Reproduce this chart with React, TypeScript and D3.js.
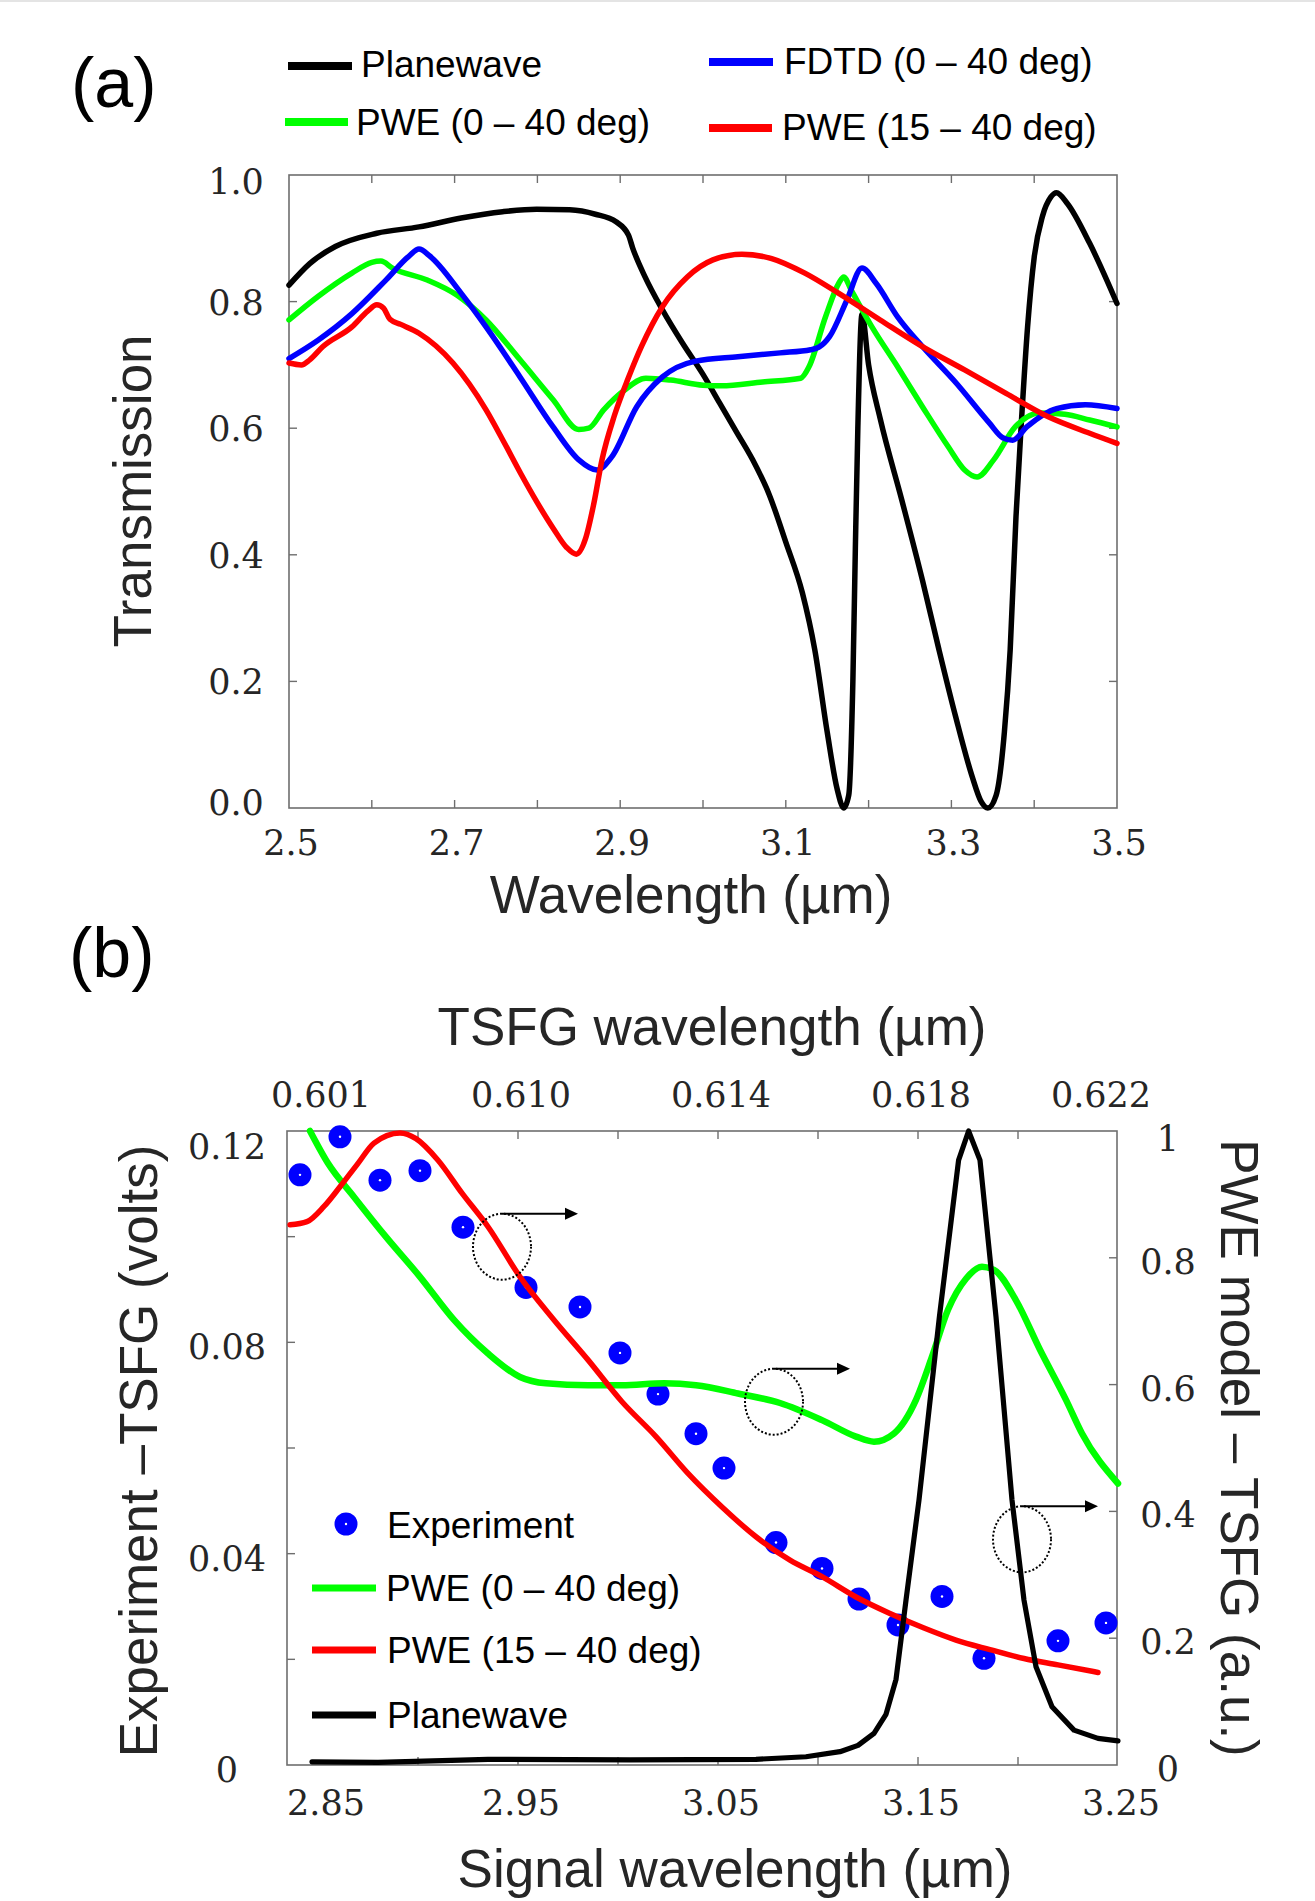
import React from "react";
import * as d3 from "d3";

// ---------- panel (a) data : transmission vs wavelength (um) ----------
const aXTickLabels = [2.5, 2.7, 2.9, 3.1, 3.3, 3.5];
const aXMinor = [2.6, 2.7, 2.8, 2.9, 3.0, 3.1, 3.2, 3.3, 3.4];
const aYTicks = [0, 0.2, 0.4, 0.6, 0.8, 1.0];

const planewaveA: [number, number][] = [
  [2.5, 0.826], [2.525, 0.86], [2.556, 0.887], [2.606, 0.908], [2.657, 0.918], [2.708, 0.932],
  [2.758, 0.942], [2.799, 0.946], [2.839, 0.945], [2.87, 0.938], [2.895, 0.926], [2.91, 0.905],
  [2.915, 0.885], [2.93, 0.839], [2.951, 0.787], [2.975, 0.735], [3.0, 0.685], [3.02, 0.64],
  [3.04, 0.595], [3.06, 0.55], [3.08, 0.495], [3.1, 0.42], [3.12, 0.34], [3.135, 0.25],
  [3.15, 0.12], [3.162, 0.03], [3.17, 0.0], [3.176, 0.02], [3.181, 0.2], [3.184, 0.41],
  [3.187, 0.6], [3.192, 0.78], [3.2, 0.7], [3.214, 0.615], [3.24, 0.487], [3.265, 0.36],
  [3.285, 0.25], [3.305, 0.145], [3.325, 0.05], [3.336, 0.01], [3.344, 0.0], [3.354, 0.02],
  [3.364, 0.12], [3.371, 0.25], [3.378, 0.46], [3.385, 0.62], [3.392, 0.76], [3.4, 0.87],
  [3.41, 0.935], [3.42, 0.965], [3.427, 0.972], [3.44, 0.955], [3.467, 0.892], [3.5, 0.797],
];

const pwe040A: [number, number][] = [
  [2.5, 0.771], [2.535, 0.808], [2.576, 0.845], [2.6, 0.862], [2.611, 0.864], [2.625, 0.853],
  [2.667, 0.834], [2.703, 0.81], [2.738, 0.771], [2.779, 0.708], [2.819, 0.645], [2.85, 0.598],
  [2.862, 0.6], [2.88, 0.629], [2.905, 0.66], [2.931, 0.679], [2.961, 0.676], [3.0, 0.668],
  [3.022, 0.667], [3.072, 0.673], [3.118, 0.679], [3.128, 0.697], [3.148, 0.776], [3.164, 0.829],
  [3.17, 0.839], [3.179, 0.818], [3.204, 0.76], [3.235, 0.697], [3.265, 0.634], [3.296, 0.571],
  [3.316, 0.534], [3.331, 0.523], [3.351, 0.55], [3.377, 0.602], [3.407, 0.624], [3.437, 0.622],
  [3.467, 0.613], [3.5, 0.602],
];

const fdtdA: [number, number][] = [
  [2.5, 0.71], [2.535, 0.739], [2.576, 0.781], [2.617, 0.834], [2.645, 0.872], [2.657, 0.883],
  [2.67, 0.872], [2.708, 0.813], [2.738, 0.76], [2.779, 0.681], [2.819, 0.602], [2.85, 0.55],
  [2.872, 0.534], [2.89, 0.555], [2.92, 0.634], [2.951, 0.681], [2.991, 0.706], [3.042, 0.713],
  [3.093, 0.719], [3.13, 0.724], [3.14, 0.728], [3.153, 0.745], [3.174, 0.803], [3.192, 0.853],
  [3.209, 0.829], [3.235, 0.776], [3.265, 0.729], [3.306, 0.671], [3.346, 0.608], [3.362, 0.585],
  [3.374, 0.581], [3.391, 0.602], [3.427, 0.631], [3.462, 0.637], [3.5, 0.631],
];

const pwe1540A: [number, number][] = [
  [2.5, 0.703], [2.515, 0.7], [2.525, 0.708], [2.541, 0.729], [2.576, 0.76], [2.595, 0.785],
  [2.606, 0.795], [2.614, 0.79], [2.622, 0.772], [2.635, 0.764], [2.657, 0.75], [2.698, 0.703],
  [2.738, 0.629], [2.76, 0.577], [2.78, 0.528], [2.8, 0.482], [2.82, 0.44], [2.835, 0.412],
  [2.847, 0.401], [2.858, 0.425], [2.868, 0.48], [2.878, 0.55], [2.893, 0.62], [2.91, 0.68],
  [2.926, 0.73], [2.951, 0.792], [2.981, 0.839], [3.012, 0.866], [3.047, 0.875], [3.083, 0.868],
  [3.123, 0.845], [3.164, 0.813], [3.214, 0.771], [3.265, 0.729], [3.316, 0.692], [3.366, 0.655],
  [3.417, 0.618], [3.467, 0.592], [3.5, 0.576],
];

// ---------- panel (b) data ----------
const bXTickLabels = [2.85, 2.95, 3.05, 3.15, 3.25];
const bXMinor = [2.9, 2.95, 3.0, 3.05, 3.1, 3.15, 3.2];
const bTopTickPos = [2.85, 2.95, 3.05, 3.15, 3.24];
const bTopTickLabels = ["0.601", "0.610", "0.614", "0.618", "0.622"];
const bLeftTicks = [0, 0.04, 0.08, 0.12];
const bLeftMinor = [0.02, 0.04, 0.06, 0.08, 0.1];
const bRightTicks = [0, 0.2, 0.4, 0.6, 0.8, 1];

// experiment (volts, left axis)
const expX = [2.841, 2.861, 2.881, 2.901, 2.9225, 2.954, 2.981, 3.001, 3.02, 3.039,
  3.053, 3.079, 3.102, 3.1205, 3.14, 3.162, 3.183, 3.22, 3.244];
const expY = [0.1117, 0.1189, 0.1107, 0.1125, 0.1018, 0.0904, 0.0867, 0.078, 0.0702, 0.0627,
  0.0562, 0.0421, 0.0372, 0.0314, 0.0265, 0.0319, 0.0202, 0.0235, 0.0269];

// models (a.u., right axis)
const pwe040B: [number, number][] = [
  [2.846, 1.0], [2.855, 0.949], [2.868, 0.896], [2.884, 0.833], [2.901, 0.77], [2.918, 0.702],
  [2.935, 0.649], [2.951, 0.612], [2.964, 0.602], [2.985, 0.599], [3.002, 0.599], [3.023, 0.602],
  [3.039, 0.599], [3.06, 0.586], [3.081, 0.571], [3.102, 0.544], [3.119, 0.518], [3.128, 0.51],
  [3.138, 0.523], [3.149, 0.576], [3.157, 0.644], [3.165, 0.718], [3.174, 0.767], [3.182, 0.786],
  [3.188, 0.781], [3.199, 0.733], [3.211, 0.655], [3.224, 0.576], [3.232, 0.523], [3.25, 0.444],
];

const pwe1540B: [number, number][] = [
  [2.836, 0.852], [2.8445, 0.857], [2.853, 0.881], [2.861, 0.912], [2.87, 0.949], [2.878, 0.981],
  [2.891, 0.997], [2.899, 0.988], [2.91, 0.954], [2.922, 0.902], [2.935, 0.849], [2.951, 0.77],
  [2.968, 0.702], [2.985, 0.639], [3.002, 0.573], [3.019, 0.518], [3.035, 0.46], [3.052, 0.407],
  [3.069, 0.36], [3.086, 0.323], [3.102, 0.297], [3.119, 0.265], [3.136, 0.239], [3.153, 0.216],
  [3.169, 0.197], [3.186, 0.182], [3.203, 0.168], [3.22, 0.158], [3.24, 0.146],
];

const planewaveB: [number, number][] = [
  [2.847, 0.005], [2.88, 0.004], [2.935, 0.009], [3.006, 0.008], [3.069, 0.009], [3.094, 0.013],
  [3.111, 0.021], [3.12, 0.031], [3.128, 0.05], [3.134, 0.08], [3.139, 0.135], [3.144, 0.26],
  [3.1505, 0.418], [3.1607, 0.707], [3.1703, 0.954], [3.1753, 1.0], [3.181, 0.954], [3.189, 0.707],
  [3.197, 0.418], [3.203, 0.26], [3.209, 0.155], [3.217, 0.092], [3.228, 0.055], [3.24, 0.042],
  [3.25, 0.038],
];

// dotted "points to right axis" markers: centre (signal um, a.u.) and arrow end
const markerCx = [2.942, 3.078, 3.202];
const markerCy = [0.8175, 0.573, 0.356];
const markerEnd = [2.98, 3.116, 3.24];

const tickFont = "'DejaVu Serif', serif";
const sansFont = "'Liberation Sans', Arial, sans-serif";
const axisColor = "#6e6e6e";
const textColor = "#262626";

export default function App() {
  const width = 1315;
  const height = 1901;

  // scales
  const xA = d3.scaleLinear().domain([2.5, 3.5]).range([289, 1117]);
  const yA = d3.scaleLinear().domain([0, 1]).range([808, 175]);
  const xB = d3.scaleLinear().domain([2.8345, 3.2495]).range([287, 1117]);
  const yBL = d3.scaleLinear().domain([0, 0.12]).range([1765, 1131]);
  const yBR = d3.scaleLinear().domain([0, 1]).range([1765, 1131]);

  const lineA = d3.line<[number, number]>()
    .x(d => xA(d[0]))
    .y(d => yA(d[1]))
    .curve(d3.curveMonotoneX);
  const lineB = d3.line<[number, number]>()
    .x(d => xB(d[0]))
    .y(d => yBR(d[1]))
    .curve(d3.curveMonotoneX);
  const lineBLinear = d3.line<[number, number]>()
    .x(d => xB(d[0]))
    .y(d => yBR(d[1]));

  const [aL, aR] = xA.range();
  const [aB, aT] = yA.range();
  const [bL, bR] = xB.range();
  const [bB, bT] = yBR.range();
  const tick = 8;

  // end labels of the (a) y axis sit a little inside the axis ends
  const aYLabelShift = (v: number) => (v === 1 ? 19 : v === 0 ? 7 : 13);

  return (
    <svg width={width} height={height} style={{ position: "absolute", left: 0, top: 0, background: "#fff" }}>
      <rect x={0} y={0} width={width} height={height} fill="#fff" />
      <line x1={0} x2={width} y1={1} y2={1} stroke="#e4e4e4" strokeWidth={2} />

      {/* ================= panel (a) ================= */}
      <text x={71} y={107} fontFamily={sansFont} fontSize={70} fill="#000">(a)</text>

      {/* legend (a) */}
      <g fontFamily={sansFont} fontSize={37} fill="#000">
        <line x1={288} x2={352} y1={66} y2={66} stroke="#000" strokeWidth={8} />
        <text x={361} y={77}>Planewave</text>
        <line x1={709} x2={773} y1={62} y2={62} stroke="#0000ff" strokeWidth={8} />
        <text x={784} y={74}>FDTD (0 – 40 deg)</text>
        <line x1={285} x2={348} y1={122} y2={122} stroke="#00ff00" strokeWidth={8} />
        <text x={356} y={135}>PWE (0 – 40 deg)</text>
        <line x1={709} x2={772} y1={128} y2={128} stroke="#ff0000" strokeWidth={8} />
        <text x={782} y={140}>PWE (15 – 40 deg)</text>
      </g>

      {/* axes box (a) */}
      <rect x={aL} y={aT} width={aR - aL} height={aB - aT} fill="none" stroke={axisColor} strokeWidth={1.6} />
      {aXMinor.map(v => (
        <g key={"axm" + v}>
          <line x1={xA(v)} x2={xA(v)} y1={aB} y2={aB - tick} stroke={axisColor} strokeWidth={1.4} />
          <line x1={xA(v)} x2={xA(v)} y1={aT} y2={aT + tick} stroke={axisColor} strokeWidth={1.4} />
        </g>
      ))}
      {aYTicks.slice(1, -1).map(v => (
        <g key={"aym" + v}>
          <line x1={aL} x2={aL + tick} y1={yA(v)} y2={yA(v)} stroke={axisColor} strokeWidth={1.4} />
          <line x1={aR} x2={aR - tick} y1={yA(v)} y2={yA(v)} stroke={axisColor} strokeWidth={1.4} />
        </g>
      ))}
      <g fontFamily={tickFont} fontSize={35} fill={textColor}>
        {aXTickLabels.map(v => (
          <text key={"axl" + v} x={xA(v) + 2} y={855} textAnchor="middle">{v.toFixed(1)}</text>
        ))}
        {aYTicks.map(v => (
          <text key={"ayl" + v} x={236} y={yA(v) + aYLabelShift(v)} textAnchor="middle">{v.toFixed(1)}</text>
        ))}
      </g>
      <text x={691} y={913} textAnchor="middle" fontFamily={sansFont} fontSize={53} fill={textColor}>Wavelength (µm)</text>
      <text transform={`translate(151,491) rotate(-90)`} textAnchor="middle" fontFamily={sansFont} fontSize={53} fill={textColor}>Transmission</text>

      {/* curves (a) */}
      <g fill="none" strokeLinejoin="round" strokeLinecap="round">
        <path d={lineA(planewaveA) ?? ""} stroke="#000" strokeWidth={5.5} />
        <path d={lineA(pwe040A) ?? ""} stroke="#00ff00" strokeWidth={5.5} />
        <path d={lineA(fdtdA) ?? ""} stroke="#0000ff" strokeWidth={5.5} />
        <path d={lineA(pwe1540A) ?? ""} stroke="#ff0000" strokeWidth={5.5} />
      </g>

      {/* ================= panel (b) ================= */}
      <text x={69} y={977} fontFamily={sansFont} fontSize={70} fill="#000">(b)</text>
      <text x={712} y={1045} textAnchor="middle" fontFamily={sansFont} fontSize={53} fill={textColor}>TSFG wavelength (µm)</text>
      <text x={735} y={1887} textAnchor="middle" fontFamily={sansFont} fontSize={53} fill={textColor}>Signal wavelength (µm)</text>
      <text transform={`translate(157,1451) rotate(-90)`} textAnchor="middle" fontFamily={sansFont} fontSize={53} fill={textColor}>Experiment –TSFG (volts)</text>
      <text transform={`translate(1221,1448) rotate(90)`} textAnchor="middle" fontFamily={sansFont} fontSize={53} fill={textColor}>PWE model – TSFG (a.u.)</text>

      <rect x={bL} y={bT} width={bR - bL} height={bB - bT} fill="none" stroke={axisColor} strokeWidth={1.6} />
      {bXMinor.map(v => (
        <g key={"bxm" + v}>
          <line x1={xB(v)} x2={xB(v)} y1={bB} y2={bB - tick} stroke={axisColor} strokeWidth={1.4} />
          <line x1={xB(v)} x2={xB(v)} y1={bT} y2={bT + tick} stroke={axisColor} strokeWidth={1.4} />
        </g>
      ))}
      {bLeftMinor.map(v => (
        <line key={"blm" + v} x1={bL} x2={bL + tick} y1={yBL(v)} y2={yBL(v)} stroke={axisColor} strokeWidth={1.4} />
      ))}
      {bRightTicks.slice(1, -1).map(v => (
        <line key={"brm" + v} x1={bR} x2={bR - tick} y1={yBR(v)} y2={yBR(v)} stroke={axisColor} strokeWidth={1.4} />
      ))}
      <g fontFamily={tickFont} fontSize={35} fill={textColor}>
        {bXTickLabels.map(v => (
          <text key={"bxl" + v} x={xB(v) + (v === 2.85 ? 8 : 3)} y={1815} textAnchor="middle">{v.toFixed(2)}</text>
        ))}
        {bTopTickPos.map((v, i) => (
          <text key={"btl" + v} x={xB(v) + 3} y={1107} textAnchor="middle">{bTopTickLabels[i]}</text>
        ))}
        {bLeftTicks.map(v => (
          <text key={"bll" + v} x={227} y={yBL(v) + (v === 0.12 ? 28 : 17)} textAnchor="middle">{v === 0 ? "0" : String(v)}</text>
        ))}
        {bRightTicks.map(v => (
          <text key={"brl" + v} x={1168} y={yBR(v) + (v === 1 ? 20 : 16)} textAnchor="middle">{String(v)}</text>
        ))}
      </g>

      {/* experiment dots */}
      {expX.map((x, i) => (
        <g key={"exp" + i}>
          <circle cx={xB(x)} cy={yBL(expY[i])} r={11.5} fill="#0000ff" />
          <circle cx={xB(x)} cy={yBL(expY[i])} r={1.2} fill="#fff" />
        </g>
      ))}

      {/* model curves */}
      <g fill="none" strokeLinejoin="round" strokeLinecap="round">
        <path d={lineB(pwe040B) ?? ""} stroke="#00ff00" strokeWidth={6.5} />
        <path d={lineB(pwe1540B) ?? ""} stroke="#ff0000" strokeWidth={5.5} />
        <path d={lineBLinear(planewaveB) ?? ""} stroke="#000" strokeWidth={5.2} />
      </g>

      {/* dotted ellipses with arrows to the right axis */}
      {markerCx.map((cx, i) => {
        const px = xB(cx);
        const py = yBR(markerCy[i]);
        const ay = py - 33;
        const ex = xB(markerEnd[i]);
        return (
          <g key={"mk" + i}>
            <ellipse cx={px} cy={py} rx={29} ry={33} fill="none" stroke="#000" strokeWidth={2} strokeDasharray="2 2" />
            <line x1={px} x2={ex - 10} y1={ay} y2={ay} stroke="#000" strokeWidth={2} />
            <polygon points={`${ex},${ay} ${ex - 13},${ay - 6} ${ex - 13},${ay + 6}`} fill="#000" />
          </g>
        );
      })}

      {/* legend (b) */}
      <g fontFamily={sansFont} fontSize={37} fill="#000">
        <circle cx={346} cy={1524} r={11.5} fill="#0000ff" />
        <circle cx={346} cy={1524} r={1.2} fill="#fff" />
        <text x={387} y={1538}>Experiment</text>
        <line x1={312} x2={376} y1={1588} y2={1588} stroke="#00ff00" strokeWidth={7} />
        <text x={386} y={1601}>PWE (0 – 40 deg)</text>
        <line x1={312} x2={376} y1={1650} y2={1650} stroke="#ff0000" strokeWidth={7} />
        <text x={387} y={1663}>PWE (15 – 40 deg)</text>
        <line x1={312} x2={376} y1={1715} y2={1715} stroke="#000" strokeWidth={7} />
        <text x={387} y={1728}>Planewave</text>
      </g>
    </svg>
  );
}
